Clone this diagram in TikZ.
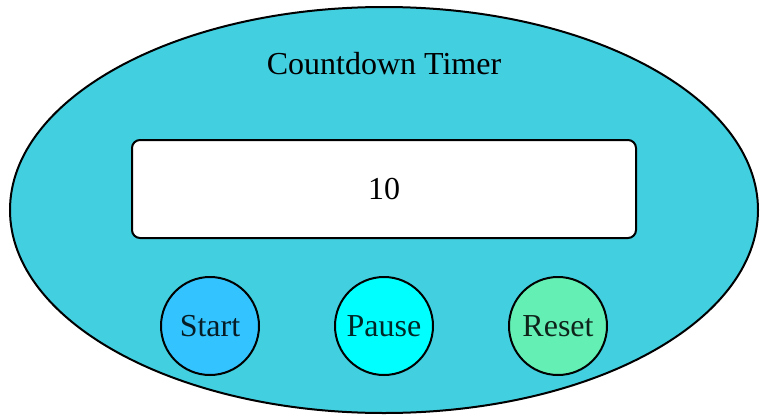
\documentclass[tikz,border=0pt]{standalone}
\usepackage{fontspec}
\setmainfont{Liberation Serif}
\usepackage{tikz}
\usetikzlibrary{shapes.geometric}

\definecolor{timerbg}{HTML}{42D0E0}
\definecolor{startbtn}{HTML}{33C4FF}
\definecolor{pausebtn}{HTML}{00FFFF}
\definecolor{resetbtn}{HTML}{64F0B4}

\tikzset{
  bigfont/.style={font=\fontsize{16pt}{19pt}\selectfont},
  button/.style={circle,draw,line width=1pt,minimum size=49pt,inner sep=0pt,
    bigfont,text opacity=0.85},
}

\begin{document}
\begin{tikzpicture}[x=0.5pt,y=-0.5pt]
      \useasboundingbox (0,0) rectangle (766,418);
      \node[ellipse,draw,line width=1pt,fill=timerbg,minimum width=374pt,
        minimum height=203pt,inner sep=0pt] (timer) at (384,210) {};
      \node[bigfont] (title) at (384,64) {Countdown Timer};
      \node[draw,line width=1pt,fill=white,rounded corners=4pt,minimum width=252pt,
        minimum height=49pt,inner sep=0pt,bigfont] (display) at (384,189) {10};
      \foreach \name/\xbtn/\col/\lbl in {start/210/startbtn/Start,
        pause/384/pausebtn/Pause, reset/558/resetbtn/Reset} {
        \node[button,fill=\col] (\name) at (\xbtn,326) {\lbl};
      }
    \end{tikzpicture}
\end{document}
